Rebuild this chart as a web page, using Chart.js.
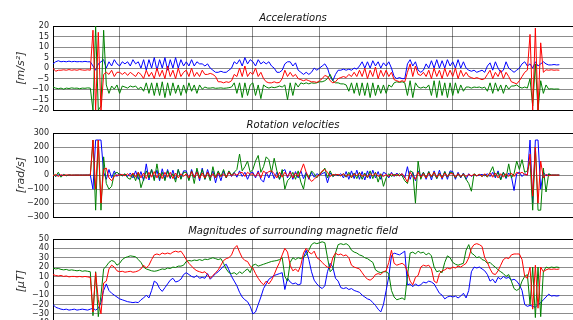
<!DOCTYPE html>
<html>
<head>
<meta charset="utf-8">
<script src="https://cdn.jsdelivr.net/npm/chart.js@4.4.0/dist/chart.umd.min.js"></script>
<style>
    html, body { margin: 0; padding: 0; background: #fff; overflow: hidden; }
    body { width: 573px; height: 320px; position: relative; }
    .panel { position: absolute; left: 0; width: 600px; height: 119px; }
</style>
</head>
<body>
<div class="panel" style="top:0px"><canvas id="acc-chart"></canvas></div>
<div class="panel" style="top:107px"><canvas id="gyro-chart"></canvas></div>
<div class="panel" style="top:213px"><canvas id="mag-chart"></canvas></div>
<script>
// samples every 40 ticks of the time axis (0 .. 7600)
const SAMPLE_STEP = 40;

// accelerations [m/s^2]
const accX = [2,3,3.5,3,3.2,3,3.3,3,3.2,3,3.1,3,3.2,3,3,1,-1,2,3,4,0,3,1,4,2,
    1,3,2,3,1,4,2,3,0,4,-1,4,0,5,-1,4,0,5,-1,4,0,5,0,4,1,
    3,1,4,1,3,2,2,1,2,0,-1,-2,-2,-1.5,-2,-2,-1,0,3,2,4,1,5,2,4,
    3,1,4,2,3,2,3,1,0,-2,-2,-1,2,3,3,1,2.5,-1,-2,-3,-2,-3,-2,0,-1,
    0,1,2,0,-4,-6,-3,-1,-1,-0.5,-1,-0.5,-1,0,-0.5,1,3,0,3,0,3.5,1,3,0,2.5,
    1,3,0,-4,-5,-4.5,-5,-5,2,4,1,3,-1,-2,-1,2,0,3.5,0,4,0,3.5,0,4,1,
    3,0,4,0,3,0,-1,-1.5,-1,-2,-1.5,-1,-2,1,2.5,-1,3,0,-2,-1,3,0,-1,-2,-1,
    0,2,3,1,2,0,3,1,2,3,2,1.5,1.5,1.7,1.5,1.6];
const accY = [-9,-9.5,-9.8,-9.5,-10,-9.5,-9.7,-9.4,-9.6,-9.5,-9.8,-9.5,-9.6,-9.4,-9.5,-20,20,-20,-18,18,-8,-12,-8.5,-10,-8,
    -12,-8.5,-9,-9.5,-8.5,-9,-8.5,-10,-9,-11,-7,-12,-7,-13,-7,-13,-6.5,-14,-7,-13,-7,-12,-8,-13,-8,
    -12,-7,-11,-8,-12,-8,-10,-9,-9.5,-9.5,-9.3,-9.6,-9.5,-9.4,-9.6,-9.5,-9.3,-9,-7,-12,-7,-14,-7,-13,-8,
    -7,-13,-8,-14.5,-8,-9,-9.5,-9,-9.3,-9,-8.5,-9,-8,-15,-7,-13,-7,-9,-7,-7.5,-7,-7.5,-7,-7.2,-7,
    -6.5,-6.5,-6,-5,-3,-6,-7,-7,-7.5,-7.5,-8,-11,-7,-12,-7,-13,-7,-13,-7,-14,-7,-13,-8,-12,-8,
    -12,-8,-9,-7,-6.5,-6.8,-6.5,-7,-13,-6,-14,-7,-9,-9.5,-9,-9.5,-8,-13,-6,-14,-6,-13,-7,-14,-7,
    -13,-7,-12,-8,-11,-9,-9,-9.5,-9,-9.2,-9,-9.5,-9,-11,-7,-12,-7,-11,-8,-12,-8,-10,-8.5,-8.5,-8,
    -9,-9.5,-9,-9.5,-5,-18,2,-20,-6,-12,-8,-10,-9.8,-10,-9.9,-10];
const accZ = [0,-1.5,-1,-1,-0.8,-1,-0.7,-1,-0.8,-1,-0.7,-0.9,-1,-0.8,-1,18,-20,17,-20,-3,-2,-3,-1,-4,-2,
    -2,-3,-2,-3.5,-2,-3,-4,-2,-3,-5,-1,-4,-2,-5,0,-4,-1,-5,1,-4,-1,-5,0,-4,-2,
    -1,-4,0,-4,-2,-4,-1,-3,-3,-2.5,-3,-4,-6.5,-6.5,-7,-6.5,-6.8,-6,-3,-4,0,-4,1,-4,-2,
    -3,0,-4,-2,-5,-6.5,-7,-7,-6.5,-7,-6.8,-5,-1,-4,-2,-4,-3,-5,-5.5,-6,-5.5,-6,-6.5,-6.5,-6.8,
    -6,-5,-3.5,-4,-6,-7,-6.5,-5,-4.5,-4,-4.5,-3,-4,-2,-4,-1,-4,0,-5,-1,-4,0.5,-5,-1,-4,
    -1,-4,-2,-5.5,-6,-6.5,-6,-6.5,-2,2,-4,1,-3,-3.5,-2,-4,-1,-5,0,-4,-1,-5,0,-4,-1,
    -4,0,-5,-1,-4,-2,-4,-4.5,-5,-4.5,-5,-5.5,-5,-3,-1,-5,-2,-4,-1,-5,-2,-4,-6.5,-7,-7.5,
    -6,-4,-2,-1,16,-20,19,-20,12,-2,-0.8,-1,-0.8,-1,-0.9,-1];

// rotation velocities [rad/s]
const gyroX = [5,-8,3,-5,2,-3,0,-2,0,0,0,0,0,1,0,-100,250,250,250,20,-30,40,-20,30,-10,
    10,-5,5,-10,15,-20,30,-30,25,-40,80,-35,40,-30,35,-40,45,-30,40,-25,35,-30,40,-25,30,
    30,-30,40,-20,35,-40,50,-30,40,-20,30,-55,20,-40,30,-20,25,-10,20,-15,30,-10,20,-30,15,
    20,-20,30,-30,-50,20,-20,30,-25,20,-30,25,40,-20,30,-30,25,-20,30,-25,20,-30,20,-15,10,
    0,10,20,-55,15,-10,5,-5,10,-20,25,-30,30,-25,35,-30,25,-35,30,-25,35,-20,25,-30,20,
    10,-20,20,-10,15,-5,10,-20,60,-30,20,-40,30,-10,20,-30,25,-35,30,-25,35,-30,25,-30,30,
    25,-30,20,-20,15,-30,10,-10,5,-5,0,5,-5,10,-10,20,-20,30,-30,20,-25,15,-10,-110,10,
    20,-10,10,0,250,-200,250,250,-100,20,-5,5,0,0,0,0];
const gyroY = [10,-10,20,-15,5,-5,2,0,0,0,0,0,0,0,0,250,-250,250,-250,130,-60,-100,-80,10,20,
    5,-5,10,-20,-30,10,-40,20,-90,-30,30,-20,40,-40,80,-30,20,-40,30,-20,10,-50,40,-30,20,
    20,-40,30,-60,50,-20,40,-30,20,-40,60,-20,30,-10,40,-20,30,0,20,40,150,30,60,100,20,
    40,100,140,20,60,130,110,20,120,30,-30,40,-100,-40,-20,20,-30,30,-50,-100,10,-20,30,10,-20,
    10,20,50,-20,30,-10,5,0,-5,10,-15,20,-20,15,-25,20,-30,15,-20,30,-25,20,-50,10,-80,
    -20,10,-10,5,-5,10,-5,-40,-60,30,20,-200,100,-30,20,-20,25,-15,20,-25,15,-20,25,-15,20,
    15,-20,10,-15,10,-30,-60,-115,10,-5,5,-10,5,-15,20,60,-10,20,-35,20,-20,80,-20,10,100,
    40,110,20,30,100,-250,200,-250,-250,50,-120,10,0,0,0,0];
const gyroZ = [-5,5,-10,3,-3,2,0,0,0,0,0,0,0,0,0,250,-100,250,-200,40,50,-20,-40,-10,0,
    0,5,-5,10,-10,15,-15,20,-20,15,-25,20,-15,25,-20,15,-25,20,-15,20,-25,15,-20,10,-10,
    10,-20,25,-15,20,-25,15,-20,20,-15,10,-20,15,-10,10,-15,20,-5,10,0,15,20,-10,20,5,
    10,-10,20,-20,30,10,25,30,10,-20,20,-15,20,-10,20,-20,15,-10,30,80,20,-20,-45,-30,-10,
    0,30,40,20,-10,5,0,5,-5,10,-10,5,-15,10,-5,15,-10,5,-15,10,-5,15,-10,5,-10,
    5,-10,10,-5,5,-5,10,-15,-50,20,-10,-30,20,-15,10,-20,15,-10,20,-15,10,-20,15,-10,10,
    10,-15,10,-10,5,-10,5,-5,5,-5,5,-10,10,-10,15,-15,15,-20,10,-15,10,-10,15,-10,20,
    10,20,5,0,150,-150,200,-200,100,-20,5,-5,0,0,0,0];

// magnetic field [uT]
const magX = [-20,-23,-24,-25,-25.5,-25,-26,-25.5,-25,-26,-25.5,-25,-25.5,-26,-25,-24,-26,-24,-18,-5,2,-5,-8,-10,-12,
    -14,-15,-16,-17,-17.5,-18,-17.5,-18,-15,-13,-10,-13,-5,5,3,-3,-6,-2,2,6,8,4,5,7,12,
    14,12,10,9,11,8,9,8,13,7,10,13,15,18,21,23,17,10,5,0,-7,-12,-15,-17,-22,
    -30,-28,-20,-12,-3,2,7,9,11,12,13,14,-4,8,4,2,3,1,2,30,38,28,15,6,2,
    -1,-3,0,15,24,20,8,5,-2,-3,-2,-4,-3,-5,-6,-7,-10,-12,-14,-15,-18,-21,-25,-28,-20,
    -5,10,32,35,34,33,35,37,1,2,-1,2,0,1,4,3,5,4,2,-3,-8,-10,-14,-12,-11,
    -12,-11,-13,-11,-8,-13,-5,15,20,19,20,18,16,12,5,7,3,9,7,10,8,9,6,7,5,
    1,-5,-20,-22,-21,-22,-23,-20,-18,-15,-12,-9,-11,-10.5,-11,-10.5];
const magY = [19,18,18.5,17.5,17,17.5,16.5,17,16.5,16,16.5,15.5,16,15.5,15,-32,15,-33,-10,18,21,25,27,26,22,
    24,28,30,31,32,31.5,31,28,25,20,18,17,16,15.5,16,17,18,17.5,19,18.5,20,19.5,21,21,22,
    26,27,26.5,27.5,27,28,27,28.5,28,29,30,29,28,29,24,18,14,13,14,12,15,13,16,18,14,
    22,23,21,22,23,24,25,26,26.5,27,28,30,10,5,25,30,28,30,29,31,33,38,44,46,45,
    46,47,46,30,15,18,35,44,45,44,45,43,38,36,35,33,32,30,29,27,25,17,15,14,15,
    15,13,-5,-12,-15,-14,-13,-15,10,35,36,34,37,35,36,33,35,32,20,15,16,14,25,32,30,
    25,23,22,23,24,38,44,35,33,30,31,28,27,24,25,22,20,17,15,13,10,12,5,-3,-5,
    -3,5,10,12,-20,20,-34,20,-33,15,20,19,20,19.5,20,19.5];
const magZ = [12,11,10.5,11,10,10.5,9.5,10,10,9.5,10,9.5,10,9.5,9,-28,14,-15,-30,3,5,18,22,20,16,
    15,15.5,14.5,15,15.5,14.5,15,16,18,22,19,22,28,33,34,33,35,34,35,34,36,37,36,37,33,
    28,24,21,18,16,15,14,15,12,8,11,14,17,22,27,29,30,33,40,43,36,30,27,26,21,
    19,13,8,4,1,5,2,6,12,19,25,33,40,36,22,16,18,15,22,35,40,36,34,37,30,
    28,25,22,20,19,30,35,33,34,32,33,30,22,20,19,18,14,10,7,6,8,12,13,12,15,
    16,25,38,24,22,23,24,22,15,5,1,9,11,20,22,21,22,18,5,3,13,16,17,19,18,
    20,19,21,20,22,24,30,40,44,45,44,42,30,25,18,13,12,16,22,28,30,29,33,34,34,
    34,28,10,8,20,-25,22,-24,20,15,17,18,17.5,18,17.5,18];

const BLUE = '#0000ff';
const GREEN = '#008000';
const RED = '#ff0000';
const gridColor = 'rgba(0,0,0,0.45)';

function minusSign(value) {
    return value < 0 ? '\u2212' + Math.abs(value) : String(value);
}

function makePanel(canvasId, title, unit, yMin, yMax, yStep, series) {
    const ctx = document.getElementById(canvasId).getContext('2d');
    return new Chart(ctx, {
        type: 'line',
        data: {
            // first dataset is drawn last, so red ends up on top
            datasets: series.map(s => ({
                data: s.values.map((v, i) => ({ x: i * SAMPLE_STEP, y: v })),
                borderColor: s.color,
                borderWidth: 1,
                pointRadius: 0,
                fill: false,
                tension: 0
            }))
        },
        options: {
            responsive: true,
            maintainAspectRatio: false,
            animation: false,
            events: [],
            layout: { padding: { top: 0, right: 14, bottom: 5, left: 0 } },
            plugins: {
                legend: { display: false },
                tooltip: { enabled: false },
                title: {
                    display: true,
                    text: title,
                    color: '#111',
                    font: { family: 'DejaVu Sans', size: 10, style: 'italic', weight: 'normal' },
                    padding: { top: 12.5, bottom: 1.5 }
                }
            },
            scales: {
                x: {
                    type: 'linear',
                    min: 0,
                    max: 8000,
                    ticks: { display: false, stepSize: 1000 },
                    grid: { color: gridColor, drawTicks: false },
                    border: { display: true, color: '#000' },
                    afterFit: scale => { scale.height = 0; }
                },
                y: {
                    min: yMin,
                    max: yMax,
                    ticks: {
                        stepSize: yStep,
                        autoSkip: false,
                        color: '#222',
                        padding: 4,
                        font: { family: 'DejaVu Sans', size: 8 },
                        callback: minusSign
                    },
                    grid: {
                        color: c => (c.tick && c.tick.value === yMax) ? '#000' : gridColor,
                        drawTicks: false
                    },
                    border: { display: true, color: '#000' },
                    title: {
                        display: true,
                        text: unit,
                        color: '#333',
                        font: { family: 'DejaVu Sans', size: 11, style: 'italic' },
                        padding: { top: 15, bottom: 0 }
                    },
                    afterFit: scale => { scale.width = 53; }
                }
            }
        }
    });
}

document.addEventListener('DOMContentLoaded', () => {
    makePanel('acc-chart', 'Accelerations', '[m/s\u00b2]', -20, 20, 5, [
        { values: accZ, color: RED },
        { values: accY, color: GREEN },
        { values: accX, color: BLUE }
    ]);
    makePanel('gyro-chart', 'Rotation velocities', '[rad/s]', -300, 300, 100, [
        { values: gyroZ, color: RED },
        { values: gyroY, color: GREEN },
        { values: gyroX, color: BLUE }
    ]);
    makePanel('mag-chart', 'Magnitudes of surrounding magnetic field', '[\u03bcT]', -40, 50, 10, [
        { values: magZ, color: RED },
        { values: magY, color: GREEN },
        { values: magX, color: BLUE }
    ]);
});
</script>
</body>
</html>
